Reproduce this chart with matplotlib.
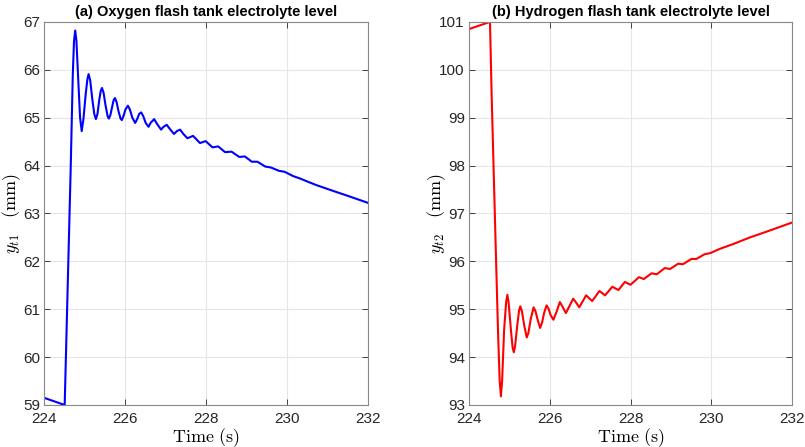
import matplotlib
matplotlib.use('Agg')
import matplotlib.pyplot as plt

# (a) oxygen flash tank level
t_oxygen = [224.00, 224.51, 224.60, 224.66, 224.71, 224.74, 224.77, 224.80, 224.85, 224.89,
            224.93, 224.97, 225.03, 225.07, 225.10, 225.14, 225.19, 225.24, 225.28, 225.32,
            225.36, 225.40, 225.43, 225.47, 225.52, 225.57, 225.60, 225.64, 225.68, 225.72,
            225.75, 225.79, 225.84, 225.89, 225.92, 225.96, 226.01, 226.07, 226.12, 226.18,
            226.25, 226.30, 226.35, 226.40, 226.45, 226.51, 226.58, 226.63, 226.72, 226.79,
            226.89, 226.95, 227.03, 227.11, 227.21, 227.28, 227.36, 227.44, 227.54, 227.68,
            227.85, 227.99, 228.16, 228.30, 228.47, 228.63, 228.82, 228.96, 229.13, 229.27,
            229.46, 229.60, 229.80, 229.94, 230.15, 230.32, 230.55, 230.73, 231.14, 231.56,
            232.00]
y_oxygen = [59.15, 59.00, 62.00, 64.00, 65.90, 66.60, 66.82, 66.60, 65.70, 65.00,
            64.72, 64.95, 65.50, 65.80, 65.91, 65.78, 65.40, 65.08, 64.97, 65.08,
            65.35, 65.56, 65.62, 65.52, 65.25, 65.03, 64.98, 65.06, 65.22, 65.37,
            65.41, 65.33, 65.13, 64.98, 64.95, 65.03, 65.17, 65.25, 65.17, 65.00,
            64.89, 64.97, 65.08, 65.11, 65.03, 64.89, 64.81, 64.89, 64.97, 64.87,
            64.75, 64.81, 64.85, 64.76, 64.66, 64.72, 64.75, 64.66, 64.57, 64.62,
            64.47, 64.51, 64.38, 64.40, 64.28, 64.29, 64.18, 64.19, 64.08, 64.08,
            63.98, 63.96, 63.89, 63.87, 63.78, 63.73, 63.65, 63.59, 63.47, 63.35,
            63.22]

# (b) hydrogen flash tank level
t_hydrogen = [224.00, 224.52, 224.56, 224.65, 224.72, 224.76, 224.79, 224.82, 224.87, 224.92,
              224.95, 224.98, 225.04, 225.08, 225.11, 225.14, 225.20, 225.24, 225.27, 225.31,
              225.37, 225.43, 225.47, 225.53, 225.60, 225.65, 225.70, 225.76, 225.81, 225.86,
              225.92, 225.97, 226.02, 226.09, 226.17, 226.25, 226.33, 226.40, 226.49, 226.58,
              226.66, 226.73, 226.82, 226.90, 227.05, 227.23, 227.37, 227.55, 227.70, 227.86,
              228.00, 228.21, 228.33, 228.52, 228.65, 228.85, 228.98, 229.18, 229.30, 229.51,
              229.63, 229.84, 229.97, 230.21, 230.54, 230.96, 231.37, 232.00]
y_hydrogen = [100.85, 101.00, 99.50, 96.66, 94.50, 93.50, 93.18, 93.50, 94.57, 95.15,
              95.30, 95.15, 94.55, 94.20, 94.10, 94.22, 94.70, 94.97, 95.06, 94.96,
              94.65, 94.41, 94.50, 94.80, 95.04, 94.95, 94.78, 94.61, 94.72, 94.92,
              95.08, 95.01, 94.88, 94.78, 94.95, 95.15, 95.03, 94.92, 95.07, 95.22,
              95.13, 95.04, 95.17, 95.29, 95.17, 95.38, 95.29, 95.47, 95.40, 95.57,
              95.51, 95.67, 95.63, 95.75, 95.73, 95.86, 95.84, 95.95, 95.94, 96.05,
              96.05, 96.15, 96.17, 96.26, 96.36, 96.50, 96.62, 96.81]

x_ticks = [224, 226, 228, 230, 232]

plt.rcParams['font.family'] = ['Liberation Sans', 'DejaVu Sans']
plt.rcParams['mathtext.fontset'] = 'cm'


def style_axes(ax, ylim, title, ylabel):
	# matlab-ish look: boxed axes, inward ticks, faint grid
	ax.set_xlim(224, 232)
	ax.set_ylim(*ylim)
	ax.set_xticks(x_ticks)
	ax.set_yticks(range(ylim[0], ylim[1] + 1))
	ax.grid(True, color='#e6e6e6', linewidth=0.8)
	ax.set_axisbelow(True)
	ax.tick_params(direction='in', top=True, right=True, length=4, width=0.6,
				   colors='#262626', labelsize=11)
	ax.tick_params(axis='x', pad=5)
	ax.tick_params(axis='y', pad=3)
	for s in ax.spines.values():
		s.set_color('#888888')
		s.set_linewidth(0.8)
	ax.set_title(title, fontsize=10.5, fontweight='bold', pad=4)
	ax.set_xlabel(r'$\mathrm{Time\ (s)}$', fontsize=13, labelpad=0)
	ax.set_ylabel(ylabel, fontsize=13)
	ax.yaxis.set_label_coords(-0.066, 0.5)


fig = plt.figure(figsize=(8.05, 4.47), dpi=100)
ax1 = fig.add_axes([0.0547, 0.094, 0.4025, 0.857])
ax2 = fig.add_axes([0.5826, 0.094, 0.4013, 0.857])

ax1.plot(t_oxygen, y_oxygen, color=(0, 0, 1), linewidth=1.5, solid_joinstyle='round')
style_axes(ax1, (59, 67), '(a) Oxygen flash tank electrolyte level', r'$y_{t1}\ \ \ \mathrm{(mm)}$')

ax2.plot(t_hydrogen, y_hydrogen, color=(1, 0, 0), linewidth=1.5, solid_joinstyle='round')
style_axes(ax2, (93, 101), '(b) Hydrogen flash tank electrolyte level', r'$y_{t2}\ \ \ \mathrm{(mm)}$')

fig.savefig('out.png', dpi=100)
